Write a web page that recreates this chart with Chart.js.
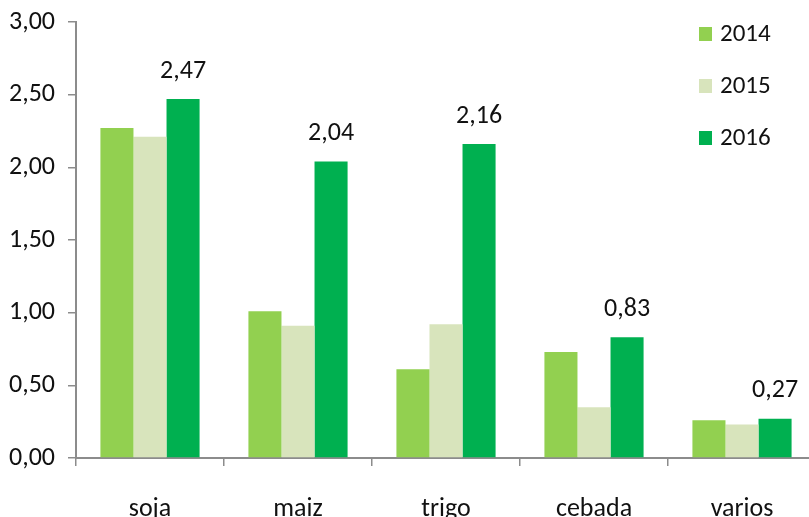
<!DOCTYPE html>
<html>
<head>
<meta charset="utf-8">
<script src="https://cdn.jsdelivr.net/npm/chart.js@4/dist/chart.umd.min.js"></script>
<style>
  html, body { margin: 0; padding: 0; background: #fff; overflow: hidden; }
  #wrap { width: 809px; height: 517px; overflow: hidden; }
</style>
</head>
<body>
<div id="wrap"><canvas id="chart" width="816" height="517"></canvas></div>
<script>
var categories = ["soja", "maiz", "trigo", "cebada", "varios"];
var years = ["2014", "2015", "2016"];
var values2014 = [2.27, 1.01, 0.61, 0.73, 0.26];
var values2015 = [2.21, 0.91, 0.92, 0.35, 0.23];
var values2016 = [2.47, 2.04, 2.16, 0.83, 0.27];
var yTicks = [0, 0.5, 1, 1.5, 2, 2.5, 3];
var colors = ["#92D050", "#D8E4BC", "#00B050"];

var FONT = "Carlito, Lato, sans-serif";

function fmt(v) {
    return v.toFixed(2).replace(".", ",");
}

// labels above the 2016 bars
var valueLabels = {
    id: "valueLabels",
    afterDatasetsDraw: function (chart) {
        var ctx = chart.ctx;
        var meta = chart.getDatasetMeta(2);
        ctx.save();
        ctx.font = "26px " + FONT;
        ctx.fillStyle = "#111";
        ctx.textAlign = "center";
        ctx.textBaseline = "middle";
        meta.data.forEach(function (bar, i) {
            ctx.fillText(fmt(values2016[i]), bar.x, bar.y - 28);
        });
        ctx.restore();
    }
};

// legend stacked vertically at the top right, drawn over the plot
var sideLegend = {
    id: "sideLegend",
    afterDraw: function (chart) {
        var ctx = chart.ctx;
        ctx.save();
        ctx.font = "25px " + FONT;
        ctx.textBaseline = "middle";
        ctx.textAlign = "left";
        chart.data.datasets.forEach(function (ds, i) {
            var cy = 34 + 52 * i;
            ctx.fillStyle = ds.backgroundColor;
            ctx.fillRect(699, cy - 7, 13, 14);
            ctx.fillStyle = "#111";
            ctx.fillText(ds.label, 720, cy + 1);
        });
        ctx.restore();
    }
};

var config = {
    type: "bar",
    data: {
        labels: categories,
        datasets: [
            { label: years[0], data: values2014, backgroundColor: colors[0] },
            { label: years[1], data: values2015, backgroundColor: colors[1] },
            { label: years[2], data: values2016, backgroundColor: colors[2] }
        ]
    },
    options: {
        responsive: false,
        animation: false,
        layout: { padding: { top: 22, right: 0, left: 0, bottom: 0 } },
        datasets: {
            bar: { categoryPercentage: 0.67, barPercentage: 1.0 }
        },
        plugins: {
            legend: { display: false },
            tooltip: { enabled: false }
        },
        scales: {
            x: {
                offset: true,
                grid: {
                    display: true,
                    offset: true,
                    drawOnChartArea: false,
                    drawTicks: true,
                    tickLength: 8,
                    color: "#8c8c8c",
                    lineWidth: 1.5
                },
                border: { display: true, color: "#8c8c8c", width: 2 },
                ticks: {
                    color: "#111",
                    font: { family: FONT, size: 26 },
                    padding: 28,
                    maxRotation: 0
                },
                afterFit: function (scale) {
                    scale.height = 59;
                    scale.paddingLeft = 0;
                    scale.paddingRight = 0;
                }
            },
            y: {
                min: 0,
                max: 3,
                afterBuildTicks: function (scale) {
                    scale.ticks = yTicks.map(function (v) { return { value: v }; });
                },
                grid: {
                    display: true,
                    drawOnChartArea: false,
                    drawTicks: true,
                    tickLength: 8,
                    color: "#8c8c8c",
                    lineWidth: 1.5
                },
                border: { display: true, color: "#8c8c8c", width: 2 },
                ticks: {
                    color: "#111",
                    font: { family: FONT, size: 26 },
                    padding: 13,
                    callback: function (v) { return fmt(v); }
                },
                afterFit: function (scale) {
                    scale.width = 76;
                    scale.paddingTop = 0;
                    scale.paddingBottom = 0;
                }
            }
        }
    },
    plugins: [valueLabels, sideLegend]
};

var chart = new Chart(document.getElementById("chart").getContext("2d"), config);
</script>
</body>
</html>
